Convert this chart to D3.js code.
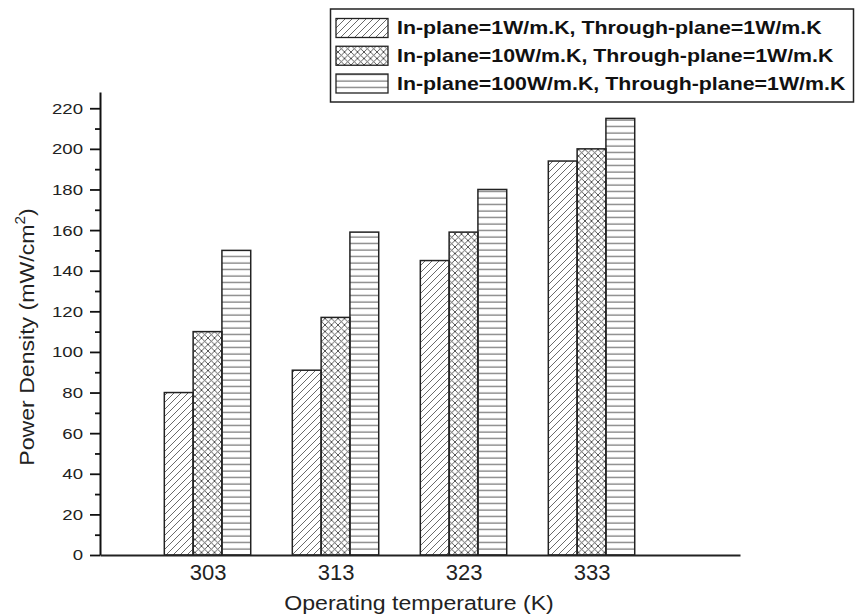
<!DOCTYPE html>
<html>
<head>
<meta charset="utf-8">
<script src="https://cdn.jsdelivr.net/npm/d3@7"></script>
<style>
  body { margin: 0; background: #fff; }
  svg { display: block; font-family: "Liberation Sans", Arial, sans-serif; }
</style>
</head>
<body>
<div id="app"></div>
<script>
// data
const temps = [303, 313, 323, 333];
const seriesNames = [
  "In-plane=1W/m.K, Through-plane=1W/m.K",
  "In-plane=10W/m.K, Through-plane=1W/m.K",
  "In-plane=100W/m.K, Through-plane=1W/m.K"
];
const inPlane1 = [80, 91, 145, 194];
const inPlane10 = [110, 117, 159, 200];
const inPlane100 = [150, 159, 180, 215];
const yTicks = [0, 20, 40, 60, 80, 100, 120, 140, 160, 180, 200, 220];
const yMinor = [10, 30, 50, 70, 90, 110, 130, 150, 170, 190, 210];

const series = [inPlane1, inPlane10, inPlane100];
const patternIds = ["hatch", "cross", "horiz"];

const width = 855, height = 616;

const svg = d3.select("#app")
  .append("svg")
  .attr("width", width)
  .attr("height", height);

// fill patterns
const defs = svg.append("defs");
defs.append("pattern")
  .attr("id", "hatch")
  .attr("patternUnits", "userSpaceOnUse")
  .attr("width", 7).attr("height", 7)
  .append("path")
  .attr("d", "M0,7 L7,0 M-2,2 L2,-2 M5,9 L9,5")
  .attr("stroke", "#444").attr("stroke-width", 0.8);

defs.append("pattern")
  .attr("id", "cross")
  .attr("patternUnits", "userSpaceOnUse")
  .attr("width", 6.5).attr("height", 6.5)
  .append("path")
  .attr("d", "M0,6.5 L6.5,0 M-1,1 L1,-1 M5.5,7.5 L7.5,5.5 M0,0 L6.5,6.5 M-1,5.5 L1,7.5 M5.5,-1 L7.5,1")
  .attr("stroke", "#444").attr("stroke-width", 0.9);

const hp = defs.append("pattern")
  .attr("id", "horiz")
  .attr("patternUnits", "userSpaceOnUse")
  .attr("width", 10).attr("height", 6.5);
hp.append("line")
  .attr("x1", 0).attr("x2", 10).attr("y1", 3).attr("y2", 3)
  .attr("stroke", "#555").attr("stroke-width", 1);

// scales
const x = d3.scaleLinear().domain([294.6, 344.6]).range([100, 740]);
const y = d3.scaleLinear().domain([0, 228]).range([555, 92]);
const bw = x(296.85) - x(294.6);

// bars
series.forEach((vals, i) => {
  svg.append("g")
    .selectAll("rect")
    .data(vals)
    .join("rect")
    .attr("x", (d, j) => x(temps[j]) + (i - 1.5) * bw)
    .attr("y", d => y(d))
    .attr("width", bw)
    .attr("height", d => y(0) - y(d))
    .attr("fill", `url(#${patternIds[i]})`)
    .attr("stroke", "#222")
    .attr("stroke-width", 1.5);
});

// y axis
const yAxis = svg.append("g")
  .attr("transform", "translate(100,0)")
  .call(d3.axisLeft(y).tickValues(yTicks).tickSize(10).tickSizeOuter(0));
yAxis.select(".domain").attr("stroke", "#111").attr("stroke-width", 2);
yAxis.selectAll(".tick line").attr("stroke", "#111").attr("stroke-width", 1.8);
yAxis.selectAll(".tick text")
  .attr("x", null)
  .attr("transform", "translate(-17,0) scale(1.2,1)")
  .attr("font-size", 15.5)
  .attr("fill", "#222");

svg.append("g")
  .attr("transform", "translate(100,0)")
  .call(d3.axisLeft(y).tickValues(yMinor).tickSize(5).tickFormat(""))
  .call(g => g.select(".domain").remove())
  .selectAll(".tick line").attr("stroke", "#111").attr("stroke-width", 1.8);

// x axis
const xAxis = svg.append("g")
  .attr("transform", "translate(0,555)")
  .call(d3.axisBottom(x).tickValues(temps).tickSize(0).tickSizeOuter(0).tickFormat(d3.format("d")));
xAxis.select(".domain").attr("stroke", "#222").attr("stroke-width", 2);
xAxis.selectAll(".tick text")
  .attr("y", 25)
  .attr("dy", 0)
  .attr("font-size", 22)
  .attr("fill", "#222");

// axis titles
svg.append("text")
  .attr("transform", "translate(419,610) scale(1.1,1)")
  .attr("text-anchor", "middle")
  .attr("font-size", 21)
  .attr("fill", "#222")
  .text("Operating temperature (K)");

const yt = svg.append("text")
  .attr("transform", "translate(34,337) rotate(-90) scale(1.1,1)")
  .attr("text-anchor", "middle")
  .attr("font-size", 21)
  .attr("fill", "#222");
yt.append("tspan").text("Power Density (mW/cm");
yt.append("tspan").attr("dy", -9).attr("font-size", 14).text("2");
yt.append("tspan").attr("dy", 9).text(")");

// legend
const legend = svg.append("g");
legend.append("rect")
  .attr("x", 330.5).attr("y", 9)
  .attr("width", 523).attr("height", 93)
  .attr("fill", "#fff")
  .attr("stroke", "#222")
  .attr("stroke-width", 1.5);

const rowY = d3.scaleLinear().domain([0, 2]).range([28, 83.5]);
seriesNames.forEach((name, i) => {
  legend.append("rect")
    .attr("x", 336).attr("y", rowY(i) - 9.5)
    .attr("width", 52).attr("height", 19)
    .attr("fill", `url(#${patternIds[i]})`)
    .attr("stroke", "#222")
    .attr("stroke-width", 1.3);
  legend.append("text")
    .attr("transform", `translate(397,${rowY(i) + 6}) scale(1.22,1)`)
    .attr("font-size", 17.5)
    .attr("font-weight", "bold")
    .attr("fill", "#111")
    .text(name);
});
</script>
</body>
</html>
